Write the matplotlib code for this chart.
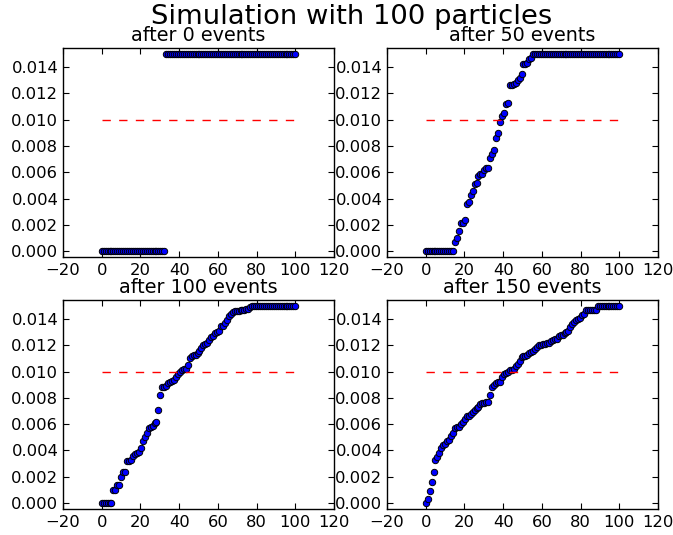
import numpy as np
import matplotlib
matplotlib.use('Agg')
import matplotlib.pyplot as plt

# 粒子位置（按序号排列）
n_particles = 100
x = np.linspace(0, 100, n_particles)

# 各事件数之后的排序值
events = [0, 50, 100, 150]

vals_0 = [0.0] * 33 + [0.015] * 67

vals_50 = ([0.0] * 15 +
           [0.0007, 0.0010, 0.0015, 0.0021, 0.0021, 0.0024, 0.0036, 0.0037,
            0.0043, 0.0046, 0.0051, 0.0052, 0.0057, 0.0059, 0.0059, 0.0062,
            0.0063, 0.0063, 0.0071, 0.0074, 0.0077, 0.0086, 0.0090, 0.0098,
            0.0103, 0.0105, 0.0112, 0.0113, 0.0126, 0.0126, 0.0127, 0.0128,
            0.0130, 0.0132, 0.0135, 0.0142, 0.0142, 0.0143, 0.0146, 0.0147] +
           [0.015] * 45)

vals_100 = ([0.0] * 6 +
            [0.0010, 0.0010, 0.0014, 0.0014, 0.0020, 0.0024, 0.0024, 0.0032,
             0.0032, 0.0033, 0.0036, 0.0037, 0.0038, 0.0039, 0.0042, 0.0047,
             0.0050, 0.0053, 0.0057, 0.0058, 0.0059, 0.0061, 0.0062, 0.0071,
             0.0082, 0.0088, 0.0088, 0.0089, 0.0091, 0.0092, 0.0093, 0.0094,
             0.0096, 0.0098, 0.0100, 0.0101, 0.0102, 0.0102, 0.0105, 0.0110,
             0.0112, 0.0113, 0.0113, 0.0114, 0.0116, 0.0118, 0.0120, 0.0121,
             0.0122, 0.0124, 0.0126, 0.0127, 0.0129, 0.0130, 0.0131, 0.0135,
             0.0135, 0.0137, 0.0139, 0.0142, 0.0144, 0.0145, 0.0146, 0.0146,
             0.0146, 0.0147, 0.0147, 0.0147, 0.0148, 0.0148, 0.0149] +
            [0.015] * 23)

vals_150 = ([0.0000, 0.0003, 0.0009, 0.0016, 0.0024, 0.0033, 0.0035, 0.0038,
             0.0042, 0.0044, 0.0045, 0.0047, 0.0048, 0.0051, 0.0053, 0.0057,
             0.0058, 0.0058, 0.0060, 0.0062, 0.0064, 0.0066, 0.0066, 0.0068,
             0.0069, 0.0071, 0.0072, 0.0073, 0.0075, 0.0076, 0.0076, 0.0077,
             0.0077, 0.0082, 0.0088, 0.0090, 0.0091, 0.0092, 0.0092, 0.0096,
             0.0098, 0.0099, 0.0100, 0.0101, 0.0101, 0.0102, 0.0104, 0.0106,
             0.0108, 0.0111, 0.0112, 0.0112, 0.0113, 0.0114, 0.0115, 0.0116,
             0.0117, 0.0119, 0.0120, 0.0120, 0.0121, 0.0121, 0.0122, 0.0122,
             0.0123, 0.0124, 0.0125, 0.0125, 0.0127, 0.0128, 0.0128, 0.0129,
             0.0130, 0.0131, 0.0134, 0.0136, 0.0138, 0.0139, 0.0140, 0.0141,
             0.0143, 0.0144] +
            [0.0147] * 6 + [0.015] * 12)

all_vals = [vals_0, vals_50, vals_100, vals_150]

# 参考线
ref_level = 0.010
ref_x = [0, 100]

x_ticks = [-20, 0, 20, 40, 60, 80, 100, 120]
y_ticks = [0.000, 0.002, 0.004, 0.006, 0.008, 0.010, 0.012, 0.014]

fig = plt.figure(figsize=(6.73, 5.35), dpi=100)

# 子图位置 (left, bottom, width, height)
positions = [
    (0.0936, 0.5196, 0.4027, 0.3907),
    (0.5750, 0.5196, 0.4027, 0.3907),
    (0.0936, 0.0486, 0.4027, 0.3907),
    (0.5750, 0.0486, 0.4027, 0.3907),
]

for pos, n_ev, vals in zip(positions, events, all_vals):
    ax = fig.add_axes(pos)
    ax.plot(x, vals, 'o', color='b', markeredgecolor='k',
            markersize=4.6, markeredgewidth=0.7)
    ax.plot(ref_x, [ref_level, ref_level], color='r',
            linestyle=(0, (6, 6)), linewidth=1.0)
    ax.set_xlim(-20, 120)
    ax.set_ylim(-0.00045, 0.01545)
    ax.set_xticks(x_ticks)
    ax.set_yticks(y_ticks)
    ax.set_yticklabels(['%.3f' % t for t in y_ticks])
    ax.tick_params(direction='in', top=True, right=True, length=4,
                   width=0.8, labelsize=11.8)
    ax.tick_params(axis='x', pad=4.3)
    ax.tick_params(axis='y', pad=3.4)
    for sp in ax.spines.values():
        sp.set_linewidth(1.0)
    ax.set_title('after %d events' % n_ev, fontsize=13.8, pad=4.8)

fig.text(0.523, 0.956, 'Simulation with 100 particles', fontsize=19.7,
         ha='center', va='baseline')

fig.savefig('out.png', dpi=100)
